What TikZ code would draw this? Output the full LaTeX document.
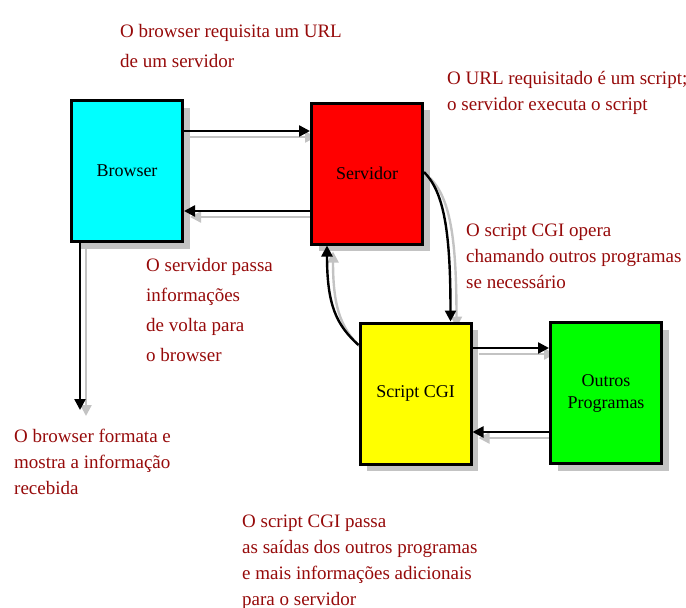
\documentclass[tikz,border=0pt]{standalone}
\usepackage{fontspec}
\setmainfont{Liberation Serif}
\usetikzlibrary{arrows.meta,shadows,calc}
\pgfdeclarelayer{background}
\pgfsetlayers{background,main}
\definecolor{notered}{RGB}{150,10,10}
\definecolor{shade}{RGB}{195,195,195}
\definecolor{boxcyan}{RGB}{0,255,255}
\definecolor{boxred}{RGB}{255,0,0}
\definecolor{boxyellow}{RGB}{255,255,0}
\definecolor{boxgreen}{RGB}{0,255,0}
\tikzset{
  box/.style={draw=black, line width=3pt, minimum width=111pt, minimum height=141pt,
    inner sep=0pt, font=\fontsize{18}{22}\selectfont, align=center,
    drop shadow={shadow xshift=7pt, shadow yshift=-7pt, fill=shade, opacity=1}},
  note/.style={text=notered, anchor=base west, inner sep=0pt, align=left},
  arr/.style={line width=2.4pt, -{Triangle[length=11pt,width=11pt]}},
  arrshade/.style={arr, draw=shade, transform canvas={shift={(6pt,-6pt)}}},
}
\begin{document}
\begin{tikzpicture}[x=1pt,y=-1pt]
\useasboundingbox (0,0) rectangle (686,608);

% boxes
\node[box, fill=boxcyan]   (browser)  at (127,171)   {Browser};
\node[box, fill=boxred]    (servidor) at (367,173.5) {Servidor};
\node[box, fill=boxyellow] (cgi)      at (415.5,393.5) {Script CGI};
\node[box, fill=boxgreen]  (outros)   at (606,393)   {Outros\\Programas};
\coordinate (recebe) at (80,410);

% connectors: grey copies first, underneath everything
\begin{pgfonlayer}{background}
\foreach \sty in {arrshade}{
  \draw[\sty] ([yshift=40pt]browser.east) -- ([yshift=40pt]browser.east -| servidor.west);
  \draw[\sty] ([yshift=-40pt]browser.east -| servidor.west) -- ([yshift=-40pt]browser.east);
  \draw[\sty] ([yshift=45.5pt]cgi.east) -- ([yshift=45.5pt]cgi.east -| outros.west);
  \draw[\sty] ([yshift=-38.5pt]cgi.east -| outros.west) -- ([yshift=-38.5pt]cgi.east);
  \draw[\sty] ([xshift=-47pt]browser.south) -- (recebe);
  \draw[\sty] ([yshift=1.5pt]servidor.east) .. controls +(20,20) and +(0,-90) .. ([xshift=35pt]cgi.north);
  \draw[\sty] ([yshift=48.5pt]cgi.west) .. controls +(-22,-20) and +(0,60) .. ([xshift=-40pt]servidor.south);
}
\end{pgfonlayer}

% connectors: black
\draw[arr] ([yshift=40pt]browser.east) -- ([yshift=40pt]browser.east -| servidor.west);
\draw[arr] ([yshift=-40pt]browser.east -| servidor.west) -- ([yshift=-40pt]browser.east);
\draw[arr] ([yshift=45.5pt]cgi.east) -- ([yshift=45.5pt]cgi.east -| outros.west);
\draw[arr] ([yshift=-38.5pt]cgi.east -| outros.west) -- ([yshift=-38.5pt]cgi.east);
\draw[arr] ([xshift=-47pt]browser.south) -- (recebe);
\draw[arr] ([yshift=1.5pt]servidor.east) .. controls +(20,20) and +(0,-90) .. ([xshift=35pt]cgi.north);
\draw[arr] ([yshift=48.5pt]cgi.west) .. controls +(-22,-20) and +(0,60) .. ([xshift=-40pt]servidor.south);

% notes (anchored at the baseline of their last line)
\node[note, font=\fontsize{19}{30}\selectfont] (n1) at (120,67)
  {O browser  requisita um URL\\de um servidor};
\node[note, font=\fontsize{19}{26}\selectfont] (n2) at (447,110)
  {O URL requisitado é um script;\\o servidor executa o script};
\node[note, font=\fontsize{19}{30}\selectfont] (n3) at (146,361)
  {O servidor passa\\informações\\de volta  para\\o browser};
\node[note, font=\fontsize{19}{26}\selectfont] (n4) at (466,288)
  {O script CGI opera\\chamando outros programas\\se necessário};
\node[note, font=\fontsize{19}{26}\selectfont] (n5) at (14,494)
  {O browser formata e\\mostra a informação\\recebida};
\node[note, font=\fontsize{19}{26}\selectfont] (n6) at (242,605)
  {O script CGI passa\\as saídas dos outros programas\\e mais informações adicionais\\para o servidor};
\end{tikzpicture}
\end{document}
